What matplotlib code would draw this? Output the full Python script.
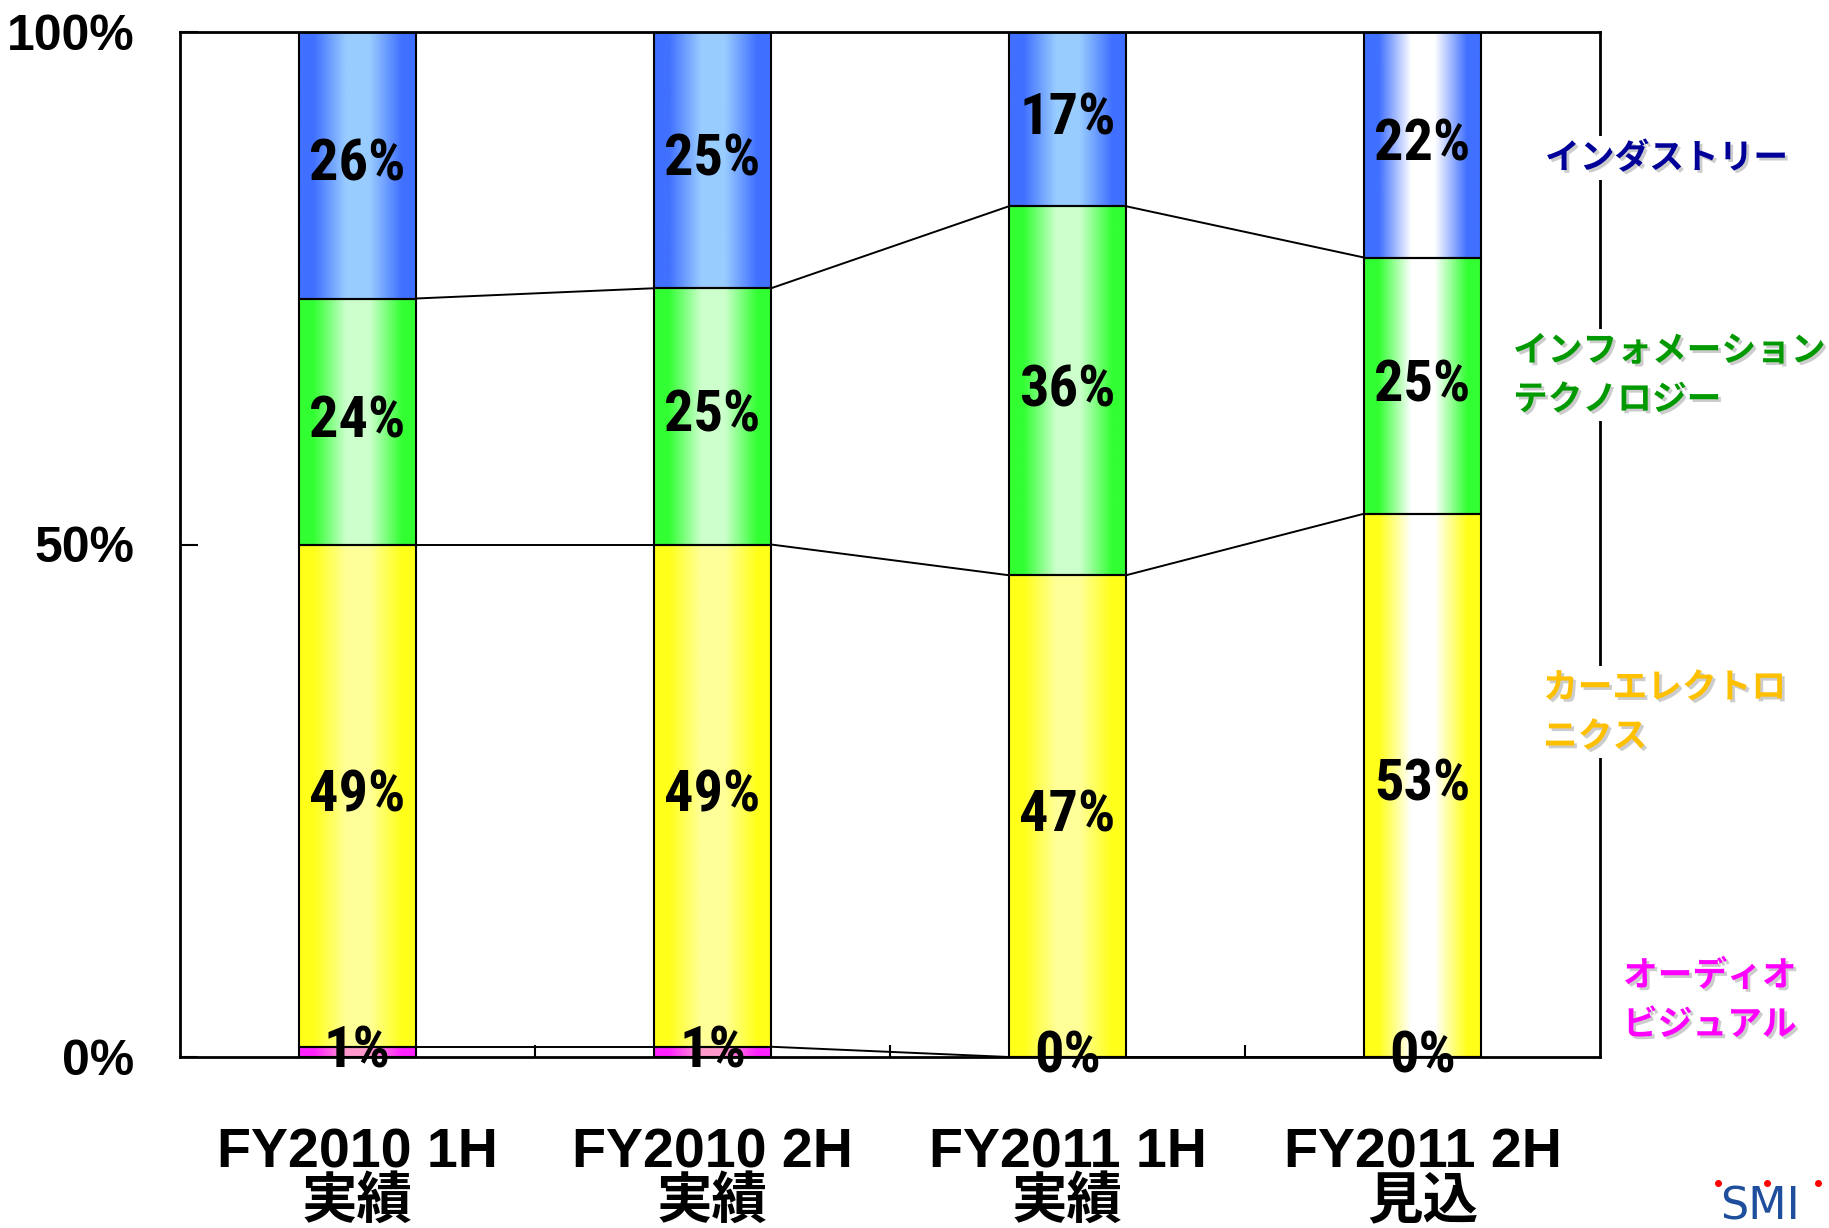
import numpy as np
import matplotlib
matplotlib.use('Agg')
import matplotlib.pyplot as plt
import matplotlib.patheffects as pe
from matplotlib import font_manager
from matplotlib.colors import to_rgb
from matplotlib.lines import Line2D

categories = ['FY2010 1H\n実績', 'FY2010 2H\n実績', 'FY2011 1H\n実績', 'FY2011 2H\n見込']
audio_visual = [1, 1, 0, 0]
car_electronics = [49, 49, 47, 53]
info_tech = [24, 25, 36, 25]
industry = [26, 25, 17, 22]
segment_names = ['オーディオ\nビジュアル', 'カーエレクトロ\nニクス',
                 'インフォメーション\nテクノロジー', 'インダストリー']
y_ticks = [0, 50, 100]
y_tick_labels = ['0%', '50%', '100%']

# fonts: a condensed face for the bar labels if one is installed
installed = {f.name for f in font_manager.fontManager.ttflist}
narrow_list = [f for f in ['Liberation Sans Narrow', 'Roboto Condensed',
                           'DejaVu Sans Condensed', 'Open Sans Condensed']
               if f in installed]
if narrow_list:
    narrow, label_size = narrow_list[0], 42
else:
    narrow, label_size = 'Liberation Sans', 35
plt.rcParams['font.family'] = ['Liberation Sans', 'Noto Sans CJK JP']

W, H = 1829, 1228
fig = plt.figure(figsize=(W / 100, H / 100), dpi=100)
ax = fig.add_axes([180 / W, 1 - 1057 / H, 1420 / W, 1025 / H])

x = np.arange(len(categories))
bw = 0.33
series = [audio_visual, car_electronics, info_tech, industry]
# (edge colour, centre colour) for bars 1-3, the forecast bar fades to white
grads = [('#FF22FF', '#FF99CC'), ('#FFFF1A', '#FFFF99'),
         ('#33FF33', '#CCFFCC'), ('#4070FF', '#99CCFF')]


def gradient_fill(bar, edge, center):
    x0, y0 = bar.get_x(), bar.get_y()
    w, h = bar.get_width(), bar.get_height()
    if h <= 0:
        return
    t = np.linspace(0, 1, 256)
    d = np.clip((np.abs(t - 0.5) * 2 - 0.2) / 0.55, 0, 1)
    e, c = np.array(to_rgb(edge)), np.array(to_rgb(center))
    img = c + (e - c) * d[:, None]
    im = ax.imshow(img[None, :, :], extent=[x0, x0 + w, y0, y0 + h],
                   aspect='auto', zorder=1, interpolation='bilinear')
    im.set_clip_path(bar)


bottom = np.zeros(len(categories))
levels = []
for vals, (edge, center) in zip(series, grads):
    vals = np.array(vals, dtype=float)
    bars = ax.bar(x, vals, bw, bottom=bottom, facecolor='none',
                  edgecolor='black', linewidth=1.5, zorder=2)
    for i, b in enumerate(bars):
        c = '#FFFFFF' if i == 3 else center
        gradient_fill(b, edge, c)
        ax.text(x[i], bottom[i] + vals[i] / 2, f'{int(vals[i])}%',
                ha='center', va='center', fontsize=label_size, fontweight='bold',
                family=[narrow, 'Noto Sans CJK JP'], zorder=5)
    bottom = bottom + vals
    levels.append(bottom.copy())

# series lines between the bars
for lev in levels[:-1]:
    for i in range(len(x) - 1):
        ax.plot([x[i] + bw / 2, x[i + 1] - bw / 2], [lev[i], lev[i + 1]],
                color='black', lw=1.4, zorder=3)

ax.set_xlim(-0.5, len(x) - 0.5)
ax.set_ylim(0, 100)
ax.set_yticks(y_ticks, y_tick_labels)
ax.set_xticks(x, categories)
ax.set_xticks(x[:-1] + 0.5, minor=True)
ax.tick_params(axis='y', direction='in', length=13, width=1.5, pad=33,
               labelsize=36)
ax.tick_params(axis='x', which='major', length=0, pad=51, labelsize=40)
ax.tick_params(axis='x', which='minor', direction='in', length=9, width=1.5)
for lab in ax.get_yticklabels() + ax.get_xticklabels():
    lab.set_fontweight('bold')
for lab in ax.get_xticklabels():
    lab.set_linespacing(0.94)
for s in ax.spines.values():
    s.set_linewidth(2)

# category names on the right, with a soft shadow
name_colors = ['#FF00FF', '#FFC000', '#009900', '#000099']
name_pos = [(1623, 1000), (1543, 712), (1513, 375), (1545, 158)]
shadow = [pe.withSimplePatchShadow(offset=(2, -2), shadow_rgbFace='#AAAAAA', alpha=0.6)]
for name, col, (px, py) in zip(segment_names, name_colors, name_pos):
    fig.text(px / W, 1 - py / H, name, color=col, fontsize=25, fontweight='bold',
             family=['Noto Sans CJK JP'], ha='left', va='center',
             linespacing=1.5, path_effects=shadow,
             bbox=dict(facecolor='white', edgecolor='none', pad=3))

# SMI logo, bottom right corner
fig.text(1720 / W, 1 - 1207 / H, 'SMI', color='#1F4E9C', fontsize=32,
         family=['DejaVu Sans'], ha='left', va='center')
fig.add_artist(Line2D(np.array([1718, 1767, 1818]) / W, [1 - 1183 / H] * 3,
                      ls='none', marker='o', ms=4, color='red',
                      transform=fig.transFigure))

fig.savefig('out.png', dpi=100)
